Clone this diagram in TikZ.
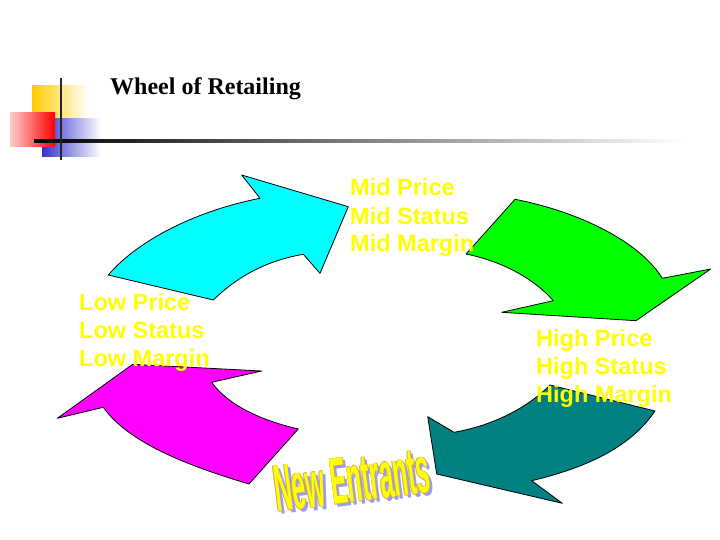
\documentclass[tikz,border=0pt]{standalone}
\usepackage{fontspec}
\setmainfont{Liberation Serif}
\newfontfamily\labfont{Liberation Sans}
\definecolor{gold}{RGB}{255,204,0}
\definecolor{logoblue}{RGB}{51,51,204}
\definecolor{lavender}{RGB}{153,153,255}
\definecolor{tanline}{RGB}{205,170,90}
\definecolor{cyanfill}{RGB}{0,255,255}
\definecolor{greenfill}{RGB}{0,255,0}
\definecolor{tealfill}{RGB}{0,128,128}
\definecolor{magentafill}{RGB}{255,0,255}
\definecolor{labelyellow}{RGB}{255,255,0}
\newcommand\netext{\scalebox{0.37}[1]{\labfont\bfseries\fontsize{66}{66}\selectfont New Entrants}}
\begin{document}
\begin{tikzpicture}[x=1pt,y=-1pt,
  arrowshape/.style={draw=black,line width=0.8pt,line join=round},
  lbl/.style={font=\labfont\bfseries\fontsize{23.5}{28}\selectfont,text=labelyellow,inner sep=0pt,anchor=base west},
  netxt/.style={inner sep=0pt,anchor=base west,rotate=7.3}]
\useasboundingbox (0,0) rectangle (720,540);
\fill[white] (0,0) rectangle (720,540);
% logo
\shade[left color=gold,right color=white] (32,86) rectangle (89,120);
\shade[left color=logoblue,right color=white] (42,119) rectangle (101,157);
\shade[left color=red!20,right color=red] (10,113) rectangle (55,147);
\shade[left color=black,right color=white] (34,139.2) rectangle (684,142.2);
\draw[line width=2pt,black!85] (61,78) -- (61,160);
\node[font=\bfseries\fontsize{24}{28}\selectfont,anchor=base west,inner sep=0pt] (title) at (110,94.3) {Wheel of Retailing};
% cyan arrow
\draw[arrowshape,fill=cyanfill] (108.3,275) -- (213.3,300)
  .. controls (240,274) and (270,260) .. (303.3,254.3)
  -- (320,273.3) -- (348.3,206.7) -- (241.7,175) -- (260,198.3)
  .. controls (200,210) and (140,238) .. cycle;
% green arrow
\draw[arrowshape,fill=greenfill] (515,199.3)
  .. controls (580,212) and (640,242) .. (662.3,278.3)
  -- (710.7,269) -- (636,320.7) -- (501.7,312.3) -- (553.3,300.7)
  .. controls (535,280) and (505,262) .. (466,254) -- cycle;
% teal arrow
\draw[arrowshape,fill=tealfill] (550,385) -- (655,411)
  .. controls (630,448) and (585,468) .. (531.7,480.7)
  -- (562.3,503.3) -- (436.7,474) -- (427.7,416.7) -- (454,432.3)
  .. controls (490,426) and (525,410) .. cycle;
% magenta arrow
\draw[arrowshape,fill=magentafill] (298.3,429) -- (249,484)
  .. controls (185,465) and (128,442) .. (103.3,407.3)
  -- (57.3,418.3) -- (132.7,364.3) -- (261.7,371) -- (211.7,382.3)
  .. controls (228,405) and (260,420) .. cycle;
% labels
\node[lbl] (mid1) at (350,196) {Mid Price};
\node[lbl] (mid2) at (350,224.3) {Mid Status};
\node[lbl] (mid3) at (350,251.7) {Mid Margin};
\node[lbl] (low1) at (79,310) {Low Price};
\node[lbl] (low2) at (79,338.3) {Low Status};
\node[lbl] (low3) at (79,366) {Low Margin};
\node[lbl] (high1) at (536,346) {High Price};
\node[lbl] (high2) at (536,374.3) {High Status};
\node[lbl] (high3) at (536,402) {High Margin};
% New Entrants word art
\node[netxt,text=lavender] (neshadow) at (280,515) {\netext};
\node[netxt,text=tanline] (neo1) at (276.3,512) {\netext};
\node[netxt,text=tanline] (neo2) at (277.7,512) {\netext};
\node[netxt,text=tanline] (neo3) at (277,511.3) {\netext};
\node[netxt,text=tanline] (neo4) at (277,512.7) {\netext};
\node[netxt,text=labelyellow] (ne) at (277,512) {\netext};
\end{tikzpicture}
\end{document}
